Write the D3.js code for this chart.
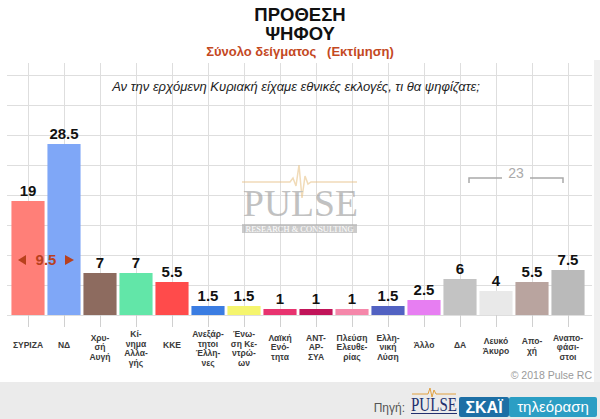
<!DOCTYPE html>
<html>
<head>
<meta charset="utf-8">
<script src="https://cdn.jsdelivr.net/npm/d3@7"></script>
<style>
  html, body { margin: 0; padding: 0; background: #fff; }
  svg { display: block; font-family: "Liberation Sans", Arial, sans-serif; }
</style>
</head>
<body>
<svg id="chart" width="600" height="419"></svg>
<script>
// ---- data ----
const categories = [
  "ΣΥΡΙΖΑ", "ΝΔ", "Χρυ-\nσή\nΑυγή", "Κί-\nνημα\nΑλλα-\nγής", "ΚΚΕ",
  "Ανεξάρ-\nτητοι\nΈλλη-\nνες", "Ένω-\nση Κε-\nντρώ-\nων", "Λαϊκή\nΕνό-\nτητα",
  "ΑΝΤ-\nΑΡ-\nΣΥΑ", "Πλεύση\nΕλευθε-\nρίας", "Ελλη-\nνική\nΛύση", "Άλλο",
  "ΔΑ", "Λευκό\nΆκυρο", "Απο-\nχή", "Αναπο-\nφάσι-\nστοι"
];
const values = [19, 28.5, 7, 7, 5.5, 1.5, 1.5, 1, 1, 1, 1.5, 2.5, 6, 4, 5.5, 7.5];
const colors = [
  "#ff7f78", "#7fa7f7", "#8d6b5f", "#62e6a8", "#ff4b4b", "#3b7de2", "#f5f56e", "#e8336f",
  "#c11459", "#f587aa", "#5262c2", "#e77ef2", "#c3c3c3", "#e9e9e9", "#b9a49f", "#bababa"
];
const yTicks = [0, 5, 10, 15, 20, 25, 30, 35, 40];
const gapPair = [0, 1];          // ΣΥΡΙΖΑ vs ΝΔ difference
const bracketGroup = [12, 13, 14, 15]; // ΔΑ, Λευκό Άκυρο, Αποχή, Αναποφάσιστοι

const titleLines = ["ΠΡΟΘΕΣΗ", "ΨΗΦΟΥ"];
const subtitle = "Σύνολο δείγματος\u00a0\u00a0\u00a0(Εκτίμηση)";
const question = "Αν την ερχόμενη Κυριακή είχαμε εθνικές εκλογές, τι θα ψηφίζατε;";

// ---- layout ----
const svg = d3.select("#chart");
const x = d3.scaleBand().domain(d3.range(categories.length)).range([10, 586])
  .paddingInner(0.08).paddingOuter(0.04);
const y = d3.scaleLinear().domain([0, 42]).range([315, 63]);
const cx = i => x(i) + x.bandwidth() / 2;

// right grey strip & bottom band
svg.append("rect").attr("x", 594).attr("y", 60).attr("width", 6).attr("height", 322).attr("fill", "#f0f0f0");
svg.append("rect").attr("x", 0).attr("y", 382).attr("width", 600).attr("height", 37).attr("fill", "#ebebeb");

// grid
const grid = svg.append("g").attr("stroke", "#dedede").attr("stroke-width", 1);
grid.selectAll("line.h").data(yTicks).join("line")
  .attr("x1", 7).attr("x2", 592)
  .attr("y1", d => Math.round(y(d)) + 0.5).attr("y2", d => Math.round(y(d)) + 0.5);
grid.selectAll("line.v").data(d3.range(categories.length)).join("line")
  .attr("x1", i => Math.round(cx(i)) + 0.5)
  .attr("x2", i => Math.round(cx(i)) + 0.5)
  .attr("y1", y(42)).attr("y2", y(0));
// tick marks below baseline
svg.append("g").attr("stroke", "#d0d0d0").selectAll("line").data(d3.range(categories.length)).join("line")
  .attr("x1", i => Math.round(cx(i)) + 0.5)
  .attr("x2", i => Math.round(cx(i)) + 0.5)
  .attr("y1", y(0)).attr("y2", y(0) + 12);

// titles
svg.selectAll("text.title").data(titleLines).join("text")
  .attr("x", 300).attr("y", (d, i) => 21 + i * 19)
  .attr("text-anchor", "middle").attr("font-size", 18.5).attr("font-weight", "bold")
  .attr("fill", "#111").text(d => d);
svg.append("text").attr("x", 300).attr("y", 56).attr("text-anchor", "middle")
  .attr("font-size", 13).attr("font-weight", "bold").attr("fill", "#c4491f").text(subtitle);

// watermark
const wm = svg.append("g").attr("opacity", 0.6);
wm.append("path")
  .attr("d", "M242,182 L290,182 L293,178 L296,186 L299,165 L302,198 L305,176 L308,184 L311,182 L357,182")
  .attr("fill", "none").attr("stroke", "#e8c48a").attr("stroke-width", 1.5);
wm.append("text").attr("x", 243).attr("y", 216).attr("font-family", "Liberation Serif, serif")
  .attr("font-size", 37).attr("textLength", 115).attr("lengthAdjust", "spacingAndGlyphs")
  .attr("fill", "#999").text("PULSE");
wm.append("rect").attr("x", 242).attr("y", 224).attr("width", 115).attr("height", 9).attr("fill", "#aaa");
wm.append("text").attr("x", 299.5).attr("y", 231.5).attr("text-anchor", "middle")
  .attr("font-family", "Liberation Serif, serif").attr("font-size", 7.5).attr("fill", "#fff")
  .attr("textLength", 108).attr("lengthAdjust", "spacingAndGlyphs").text("RESEARCH & CONSULTING");

// question
svg.append("text").attr("x", 296).attr("y", 91).attr("text-anchor", "middle")
  .attr("font-size", 13).attr("font-style", "italic").attr("fill", "#222").text(question);

// bars
svg.append("g").selectAll("rect").data(values).join("rect")
  .attr("x", (d, i) => x(i)).attr("width", x.bandwidth())
  .attr("y", d => y(d)).attr("height", d => y(0) - y(d))
  .attr("fill", (d, i) => colors[i]);

// value labels
svg.append("g").selectAll("text").data(values).join("text")
  .attr("x", (d, i) => cx(i)).attr("y", d => y(d) - 5)
  .attr("text-anchor", "middle").attr("font-size", 15).attr("font-weight", "bold")
  .attr("fill", "#111").text(d => d);

// category labels
const lab = svg.append("g");
categories.forEach((c, i) => {
  const lines = c.split("\n");
  const t = lab.append("text").attr("text-anchor", "middle").attr("font-size", 8.5)
    .attr("font-weight", "bold").attr("fill", "#3a3a3a");
  lines.forEach((l, k) => {
    t.append("tspan").attr("x", cx(i))
      .attr("y", 348 - (lines.length - 1) * 3.6 + k * 9.6).text(l);
  });
});

// gap annotation
const gap = values[gapPair[1]] - values[gapPair[0]];
const gx = (x(gapPair[0]) + x(gapPair[1]) + x.bandwidth()) / 2;
const ann = svg.append("g").attr("fill", "#b8411d");
ann.append("text").attr("x", gx).attr("y", 265).attr("text-anchor", "middle")
  .attr("font-size", 15).attr("font-weight", "bold").text(gap);
ann.append("path").attr("d", `M${gx - 28},260 L${gx - 20},255 L${gx - 20},265 Z`);
ann.append("path").attr("d", `M${gx + 28},260 L${gx + 19},255 L${gx + 19},265 Z`);

// bracket
const bsum = d3.sum(bracketGroup, i => values[i]);
const bx1 = cx(bracketGroup[0]) + 9;
const bx2 = cx(bracketGroup[bracketGroup.length - 1]) - 5;
const bmid = (bx1 + bx2) / 2;
const br = svg.append("g").attr("stroke", "#a9a9a9").attr("stroke-width", 1.5).attr("fill", "none");
br.append("path").attr("d", `M${bx1},183 L${bx1},178 L${bmid - 14},178`);
br.append("path").attr("d", `M${bmid + 14},178 L${bx2},178 L${bx2},183`);
svg.append("text").attr("x", bmid).attr("y", 178).attr("text-anchor", "middle")
  .attr("font-size", 14).attr("fill", "#aaa").text(bsum);

// copyright
svg.append("text").attr("x", 592).attr("y", 379).attr("text-anchor", "end")
  .attr("font-size", 10.5).attr("fill", "#9a9a9a").text("© 2018 Pulse RC");

// source logos
svg.append("text").attr("x", 405).attr("y", 412).attr("text-anchor", "end")
  .attr("font-size", 12).attr("fill", "#555").text("Πηγή:");
svg.append("path").attr("d", "M412,394 L428,394 L430,388 L432,397 L434,390 L436,394 L456,394")
  .attr("fill", "none").attr("stroke", "#e0a040").attr("stroke-width", 1);
svg.append("text").attr("x", 411).attr("y", 411).attr("font-family", "Liberation Serif, serif")
  .attr("font-size", 18).attr("fill", "#22306e").attr("textLength", 46)
  .attr("lengthAdjust", "spacingAndGlyphs").text("PULSE");
svg.append("line").attr("x1", 411).attr("x2", 457).attr("y1", 413.5).attr("y2", 413.5).attr("stroke", "#22306e");
svg.append("rect").attr("x", 459).attr("y", 397).attr("width", 50).attr("height", 20).attr("rx", 2).attr("fill", "#1d6fa5");
svg.append("rect").attr("x", 509).attr("y", 397).attr("width", 88).attr("height", 20).attr("rx", 2).attr("fill", "#2b9ec4");
svg.append("text").attr("x", 484).attr("y", 413).attr("text-anchor", "middle").attr("font-size", 16)
  .attr("font-weight", "bold").attr("fill", "#fff").text("ΣΚΑΪ");
svg.append("text").attr("x", 553).attr("y", 412).attr("text-anchor", "middle").attr("font-size", 15)
  .attr("fill", "#fff").text("τηλεόραση");
</script>
</body>
</html>
